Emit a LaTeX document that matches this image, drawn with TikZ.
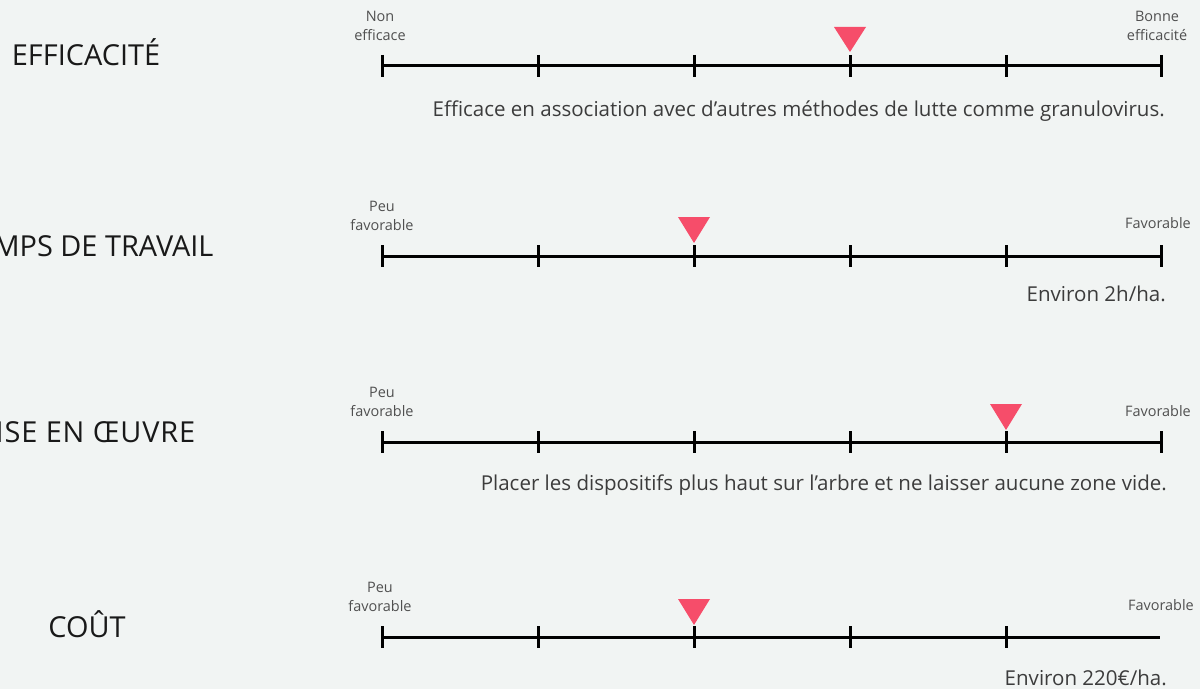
\documentclass[tikz,border=0pt]{standalone}
\usepackage{fontspec}
\setmainfont{Open Sans}
\definecolor{bg}{RGB}{241,244,243}
\definecolor{mark}{RGB}{246,77,106}
\definecolor{commentc}{RGB}{60,60,60}
\definecolor{labc}{RGB}{80,80,80}
\tikzset{
  title/.style={inner sep=0pt, anchor=base, text=black!90, font=\fontsize{29}{34}\selectfont},
  comment/.style={inner sep=0pt, anchor=base east, text=commentc, font=\fontsize{20.6}{24}\selectfont},
  lab/.style={inner sep=0pt, align=center, text=labc, font=\fontsize{14.5}{19}\selectfont},
  scaleline/.style={line width=3bp, black},
  tickmark/.style={line width=3bp, black},
  marker/.style={fill=mark, draw=none}
}
\begin{document}
\begin{tikzpicture}[x=1bp,y=-1bp]
\path[use as bounding box, fill=bg] (0,0) rectangle (1200,689);
\clip (0,0) rectangle (1200,689);

% ---------- Row 1 : EFFICACITE ----------
\node[title] (t1) at (86,66) {EFFICACITÉ};
\coordinate (a1) at (382,66);
\coordinate (b1) at (1161,66);
\draw[scaleline] (a1) -- (b1);
\foreach \x in {382,538,694,850,1006,1161}{
  \draw[tickmark] (\x,55) -- (\x,77);
}
\coordinate (m1a) at (834,27);
\coordinate (m1b) at (866,27);
\coordinate (m1c) at (850,52);
\fill[marker] (m1a) -- (m1b) -- (m1c) -- cycle;
\node[lab] (l1) at (380,26) {Non\\efficace};
\node[lab] (r1) at (1157,26) {Bonne\\efficacité};
\node[comment] (c1) at (1165,117) {Efficace en association avec d’autres méthodes de lutte comme granulovirus.};

% ---------- Row 2 : TEMPS DE TRAVAIL ----------
\node[title] (t2) at (87.5,256) {TEMPS DE TRAVAIL};
\coordinate (a2) at (382,256);
\coordinate (b2) at (1161,256);
\draw[scaleline] (a2) -- (b2);
\foreach \x in {382,538,694,850,1006,1161}{
  \draw[tickmark] (\x,245) -- (\x,267);
}
\coordinate (m2a) at (678,217);
\coordinate (m2b) at (710,217);
\coordinate (m2c) at (694,243);
\fill[marker] (m2a) -- (m2b) -- (m2c) -- cycle;
\node[lab] (l2) at (382,216) {Peu\\favorable};
\node[lab, anchor=east] (r2) at (1191,223) {Favorable};
\node[comment] (c2) at (1166,301) {Environ 2h/ha.};

% ---------- Row 3 : MISE EN OEUVRE ----------
\node[title, font=\fontsize{29}{34}\selectfont\addfontfeature{LetterSpace=3}] (t3) at (82,442) {MISE EN ŒUVRE};
\coordinate (a3) at (382,442);
\coordinate (b3) at (1161,442);
\draw[scaleline] (a3) -- (b3);
\foreach \x in {382,538,694,850,1006,1161}{
  \draw[tickmark] (\x,431) -- (\x,453);
}
\coordinate (m3a) at (990,404);
\coordinate (m3b) at (1022,404);
\coordinate (m3c) at (1006,430);
\fill[marker] (m3a) -- (m3b) -- (m3c) -- cycle;
\node[lab] (l3) at (382,402) {Peu\\favorable};
\node[lab, anchor=east] (r3) at (1191,411) {Favorable};
\node[comment] (c3) at (1167,490) {Placer les dispositifs plus haut sur l’arbre et ne laisser aucune zone vide.};

% ---------- Row 4 : COUT ----------
\node[title] (t4) at (87,637) {COÛT};
\coordinate (a4) at (382,637);
\coordinate (b4) at (1160,637);
\draw[scaleline] (a4) -- (b4);
\foreach \x in {382,538,694,850,1006}{
  \draw[tickmark] (\x,626) -- (\x,648);
}
\coordinate (m4a) at (678,599);
\coordinate (m4b) at (710,599);
\coordinate (m4c) at (694,625);
\fill[marker] (m4a) -- (m4b) -- (m4c) -- cycle;
\node[lab] (l4) at (380,597) {Peu\\favorable};
\node[lab, anchor=east] (r4) at (1194,605) {Favorable};
\node[comment] (c4) at (1167,685) {Environ 220€/ha.};
\end{tikzpicture}
\end{document}
